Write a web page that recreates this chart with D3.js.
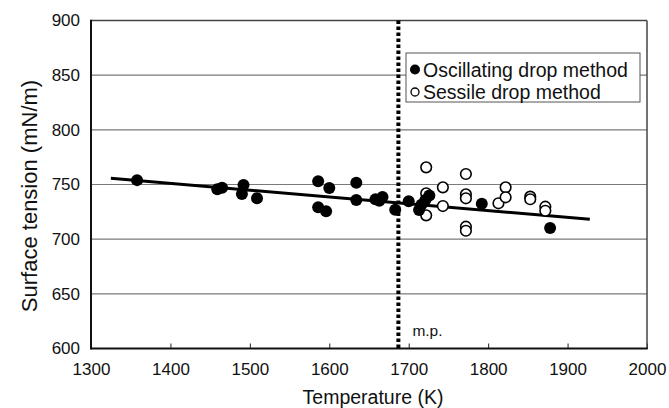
<!DOCTYPE html>
<html>
<head>
<meta charset="utf-8">
<script src="https://cdn.jsdelivr.net/npm/d3@7"></script>
<style>
    body { margin: 0; background: white; }
    svg { font-family: "Liberation Sans", Arial, sans-serif; }
</style>
</head>
<body>
<script>
// oscillating drop method (filled)
const oscTemp = [1358, 1459, 1465, 1492, 1490, 1509, 1586, 1600, 1586, 1596,
    1634, 1634, 1658, 1663, 1667, 1683, 1700, 1713, 1716, 1721, 1726, 1792, 1878];
const oscTension = [754, 745.6, 747.1, 749.5, 741.3, 737.4, 752.9, 746.8, 729.1, 725.5,
    751.6, 735.8, 736.4, 735.2, 738.5, 727, 734.6, 726.7, 731.5, 735.8, 740, 732.5, 710.3];

// sessile drop method (open)
const sesTemp = [1722, 1722, 1722, 1743, 1743, 1772, 1772, 1772, 1772, 1772,
    1813, 1822, 1822, 1853, 1853, 1872, 1872];
const sesTension = [765.7, 741.9, 721.8, 747.4, 730.3, 759.6, 741, 737.4, 711.4, 707.7,
    732.8, 747.4, 738.3, 738.9, 736.5, 729.7, 726];

// regression line end points
const fitTemp = [1325, 1928];
const fitTension = [755.7, 718.2];

const meltingPoint = 1687;

const xTicks = [1300, 1400, 1500, 1600, 1700, 1800, 1900, 2000];
const yTicks = [600, 650, 700, 750, 800, 850, 900];

const legendLabels = ["Oscillating drop method", "Sessile drop method"];

const chartDimensions = {
    width: 669,
    height: 408,
    left: 91,
    right: 647,
    top: 20.5,
    bottom: 348.5
};

let svg = d3.select("body")
    .append("svg")
    .attr("width", chartDimensions.width)
    .attr("height", chartDimensions.height);

let x = d3.scaleLinear()
    .domain([1300, 2000])
    .range([chartDimensions.left, chartDimensions.right]);

let y = d3.scaleLinear()
    .domain([600, 900])
    .range([chartDimensions.bottom, chartDimensions.top]);

// horizontal grid lines
svg.append("g")
    .selectAll("line")
    .data(yTicks.filter(d => d > 600 && d < 900))
    .enter()
    .append("line")
    .attr("x1", chartDimensions.left)
    .attr("x2", chartDimensions.right)
    .attr("y1", d => y(d))
    .attr("y2", d => y(d))
    .attr("stroke", "#7a7a7a")
    .attr("stroke-width", 1.2);

// x axis, ticks pointing inward
let xAxis = svg.append("g")
    .attr("transform", "translate(0," + chartDimensions.bottom + ")")
    .call(d3.axisBottom(x).tickValues(xTicks).tickSize(-5).tickPadding(14).tickFormat(d3.format("d")));
xAxis.select(".domain").remove();
xAxis.selectAll("line").attr("stroke", "#222");
xAxis.selectAll("text")
    .attr("font-size", 17)
    .attr("fill", "#111");

let yAxis = svg.append("g")
    .attr("transform", "translate(" + chartDimensions.left + ",0)")
    .call(d3.axisLeft(y).tickValues(yTicks).tickSize(0).tickPadding(11));
yAxis.select(".domain").remove();
yAxis.selectAll("text")
    .attr("font-size", 17)
    .attr("fill", "#111");

// frame
svg.append("line")
    .attr("x1", chartDimensions.left).attr("x2", chartDimensions.right)
    .attr("y1", chartDimensions.top).attr("y2", chartDimensions.top)
    .attr("stroke", "#444").attr("stroke-width", 1.5);
svg.append("line")
    .attr("x1", chartDimensions.right).attr("x2", chartDimensions.right)
    .attr("y1", chartDimensions.top).attr("y2", chartDimensions.bottom)
    .attr("stroke", "#444").attr("stroke-width", 1.5);
svg.append("line")
    .attr("x1", chartDimensions.left).attr("x2", chartDimensions.left)
    .attr("y1", chartDimensions.top - 0.75).attr("y2", chartDimensions.bottom + 1)
    .attr("stroke", "#111").attr("stroke-width", 2);
svg.append("line")
    .attr("x1", chartDimensions.left).attr("x2", chartDimensions.right + 0.75)
    .attr("y1", chartDimensions.bottom).attr("y2", chartDimensions.bottom)
    .attr("stroke", "#111").attr("stroke-width", 2);

// melting point
svg.append("line")
    .attr("x1", x(meltingPoint)).attr("x2", x(meltingPoint))
    .attr("y1", chartDimensions.top).attr("y2", chartDimensions.bottom)
    .attr("stroke", "#000")
    .attr("stroke-width", 4)
    .attr("stroke-dasharray", "3.5,2.5");

svg.append("text")
    .text("m.p.")
    .attr("x", x(meltingPoint) + 14)
    .attr("y", chartDimensions.bottom - 13)
    .attr("font-size", 15.5)
    .attr("fill", "#111");

// regression line
let fitLine = d3.line()
    .x(d => x(d[0]))
    .y(d => y(d[1]));
svg.append("path")
    .datum(d3.zip(fitTemp, fitTension))
    .attr("d", fitLine)
    .attr("fill", "none")
    .attr("stroke", "#000")
    .attr("stroke-width", 3);

// points
svg.append("g")
    .selectAll("circle")
    .data(d3.zip(sesTemp, sesTension))
    .enter()
    .append("circle")
    .attr("cx", d => x(d[0]))
    .attr("cy", d => y(d[1]))
    .attr("r", 5.3)
    .attr("fill", "white")
    .attr("stroke", "#000")
    .attr("stroke-width", 1.6);

svg.append("g")
    .selectAll("circle")
    .data(d3.zip(oscTemp, oscTension))
    .enter()
    .append("circle")
    .attr("cx", d => x(d[0]))
    .attr("cy", d => y(d[1]))
    .attr("r", 6)
    .attr("fill", "#000");

// legend
let legend = svg.append("g").attr("id", "legend");
legend.append("rect")
    .attr("x", 406)
    .attr("y", 53)
    .attr("width", 234)
    .attr("height", 49)
    .attr("fill", "white")
    .attr("stroke", "#555")
    .attr("stroke-width", 1);

let legendItems = legend.selectAll("g")
    .data(legendLabels)
    .enter()
    .append("g")
    .attr("transform", (d, i) => "translate(415," + (69.5 + i * 22.5) + ")");

legendItems.append("circle")
    .attr("r", (d, i) => i === 0 ? 5 : 4)
    .attr("fill", (d, i) => i === 0 ? "#000" : "white")
    .attr("stroke", "#000")
    .attr("stroke-width", (d, i) => i === 0 ? 0 : 1.3);

legendItems.append("text")
    .text(d => d)
    .attr("x", 8)
    .attr("y", 7)
    .attr("font-size", 19.5)
    .attr("fill", "#111");

// axis titles
svg.append("text")
    .text("Temperature (K)")
    .attr("x", 373)
    .attr("y", 404)
    .attr("text-anchor", "middle")
    .attr("font-size", 19.5)
    .attr("fill", "#111");

svg.append("text")
    .text("Surface tension (mN/m)")
    .attr("transform", "translate(37,196) rotate(-90)")
    .attr("text-anchor", "middle")
    .attr("font-size", 22)
    .attr("fill", "#111");
</script>
</body>
</html>
